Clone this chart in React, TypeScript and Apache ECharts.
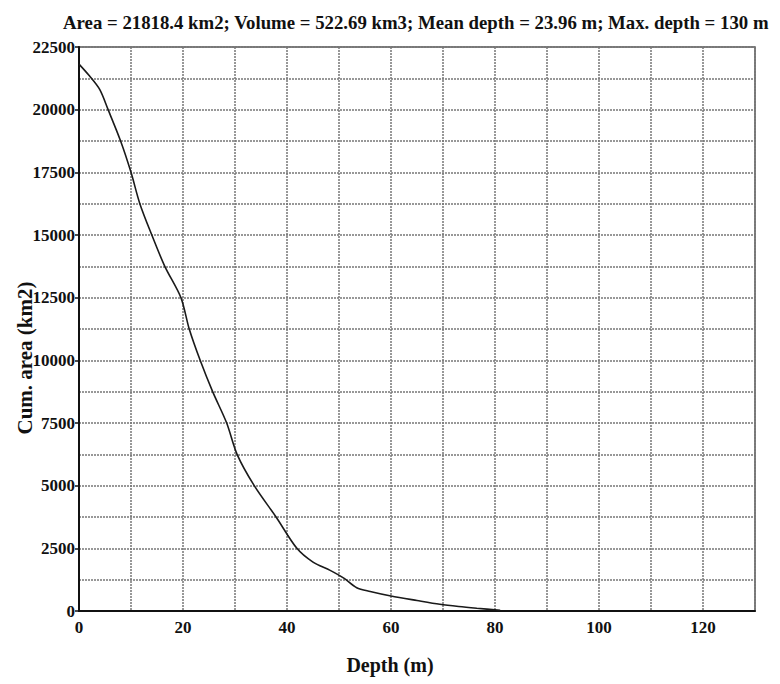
import React, { useEffect, useRef } from "react";
import * as echarts from "echarts";

const titleText =
  "Area = 21818.4 km2; Volume = 522.69 km3; Mean depth = 23.96 m; Max. depth = 130 m";
const xName = "Depth (m)";
const yName = "Cum. area (km2)";
const depth = [0, 2, 4, 5.6, 8, 10, 11.7, 14, 16.5, 19.6, 21.2, 23.3, 25.7, 28.4, 30.4, 33.7, 37.9, 41.9, 45, 48.3, 51, 53.4, 56, 60, 65, 69.4, 73, 76.5, 81];
const cumArea = [21818, 21350, 20800, 20000, 18750, 17500, 16250, 15000, 13750, 12500, 11250, 10000, 8750, 7500, 6250, 5000, 3750, 2500, 1950, 1620, 1300, 930, 780, 600, 420, 270, 180, 110, 30];

const serif = "'Liberation Serif', 'DejaVu Serif', serif";

export default function App() {
  const ref = useRef<HTMLDivElement>(null);
  useEffect(() => {
    if (!ref.current) return;
    const chart = echarts.init(ref.current, null, { renderer: "svg" });
    const gridLine = { show: true, lineStyle: { color: "#777", type: [2, 1], width: 1.5 } };
    chart.setOption({
      animation: false,
      backgroundColor: "#fff",
      title: {
        text: titleText,
        left: 58,
        top: 8,
        textStyle: { fontFamily: serif, fontWeight: "bold", fontSize: 18.8, color: "#111" },
      },
      grid: { left: 79, top: 47, right: 25, bottom: 73, show: true, borderColor: "#555", borderWidth: 1.5 },
      graphic: [
        {
          type: "text",
          x: 390,
          y: 665,
          style: { text: xName, align: "center", verticalAlign: "middle", font: `bold 20px ${serif}`, fill: "#111" },
        },
        {
          type: "text",
          x: 25,
          y: 358,
          rotation: Math.PI / 2,
          style: { text: yName, align: "center", verticalAlign: "middle", font: `bold 21px ${serif}`, fill: "#111" },
        },
      ],
      xAxis: {
        type: "value",
        min: 0,
        max: 130,
        interval: 20,
        axisLine: { show: true, lineStyle: { color: "#111", width: 2 } },
        axisTick: { show: false },
        axisLabel: { fontFamily: serif, fontWeight: "bold", fontSize: 17, color: "#111", margin: 8, showMaxLabel: false },
        splitLine: gridLine,
        minorTick: { show: false, splitNumber: 2 },
        minorSplitLine: gridLine,
      },
      yAxis: {
        type: "value",
        min: 0,
        max: 22500,
        interval: 2500,
        axisLine: { show: true, lineStyle: { color: "#111", width: 2 } },
        axisTick: { show: true, length: 4, lineStyle: { color: "#111", width: 1.5 } },
        axisLabel: {
          fontFamily: serif,
          fontWeight: "bold",
          fontSize: 17,
          color: "#111",
          margin: 4,
          formatter: (v: number) => String(v),
        },
        splitLine: gridLine,
        minorTick: { show: false, splitNumber: 2 },
        minorSplitLine: gridLine,
      },
      series: [
        {
          type: "line",
          data: depth.map((d, i) => [d, cumArea[i]]),
          showSymbol: false,
          smooth: 0.3,
          lineStyle: { color: "#1a1a1a", width: 1.6 },
        },
      ],
    });
    return () => chart.dispose();
  }, []);
  return <div ref={ref} style={{ position: "absolute", left: 0, top: 0, width: 780, height: 684 }} />;
}
